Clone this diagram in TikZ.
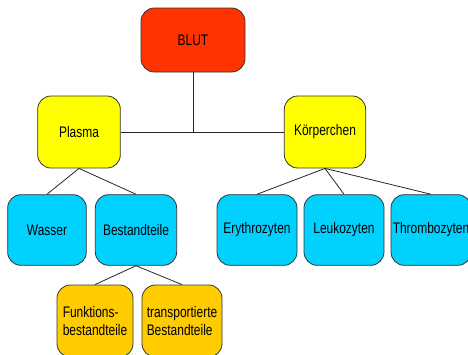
\documentclass[tikz,border=0pt]{standalone}
\usepackage{fontspec}
\setmainfont{Liberation Sans}[FakeStretch=0.78]
\usepackage{xcolor}
\usetikzlibrary{positioning}

\definecolor{blutrot}{rgb}{1,0.2,0}
\definecolor{gelb}{rgb}{1,1,0}
\definecolor{tuerkis}{rgb}{0,0.82,1}
\definecolor{gold}{rgb}{1,0.8,0}

\tikzset{
  kasten/.style={draw=black!80, line width=0.6pt, rounded corners=10pt,
    inner sep=1pt, font=\fontsize{11.5}{13.5}\selectfont},
  linie/.style={draw=black!85, line width=0.6pt}
}

\begin{document}
\begin{tikzpicture}[x=0.75pt,y=0.75pt,yscale=-1,xscale=1]
        \clip (0,0) rectangle (468,354);
        % Knoten
        \node [kasten, fill=blutrot, minimum width=78pt, minimum height=48pt] (blut) at (193,40) {BLUT};
        \node [kasten, fill=gelb, minimum width=62pt, minimum height=54pt] (plasma) at (79,132) {Plasma};
        \node [kasten, fill=gelb, minimum width=61pt, minimum height=54pt] (koerper) at (325,132) {Körperchen};
        \node [kasten, fill=tuerkis, minimum width=59pt, minimum height=53pt] (wasser) at (47,230) {Wasser};
        \node [kasten, fill=tuerkis, minimum width=61pt, minimum height=53pt] (bestand) at (136,230) {Bestandteile};
        \node [kasten, fill=tuerkis, minimum width=60pt, minimum height=53pt] (erythro) at (257,230) {Erythrozyten};
        \node [kasten, fill=tuerkis, minimum width=60pt, minimum height=53pt] (leuko) at (344,230) {Leukozyten};
        \node [kasten, fill=tuerkis, minimum width=60pt, minimum height=53pt] (thrombo) at (431,230) {Thrombozyten};
        \node [kasten, fill=gold, minimum width=57pt, minimum height=54pt, align=left] (funktion) at (95,321) {Funktions-\\bestandteile};
        \node [kasten, fill=gold, minimum width=60pt, minimum height=54pt, align=left] (transport) at (182,321) {transportierte\\Bestandteile};
        % Verbindungen
        \draw [linie] (plasma.east) -- (koerper.west);
        \draw [linie] (blut.south) -- (blut.south |- plasma.east);
        \draw [linie] (plasma.south) -- (wasser.north);
        \draw [linie] (plasma.south) -- (bestand.north);
        \draw [linie] (koerper.south) -- (erythro.north);
        \draw [linie] (koerper.south) -- (leuko.north);
        \draw [linie] (koerper.south) -- (thrombo.north);
        \draw [linie] (bestand.south) -- (funktion.north);
        \draw [linie] (bestand.south) -- (transport.north);
    \end{tikzpicture}
\end{document}
